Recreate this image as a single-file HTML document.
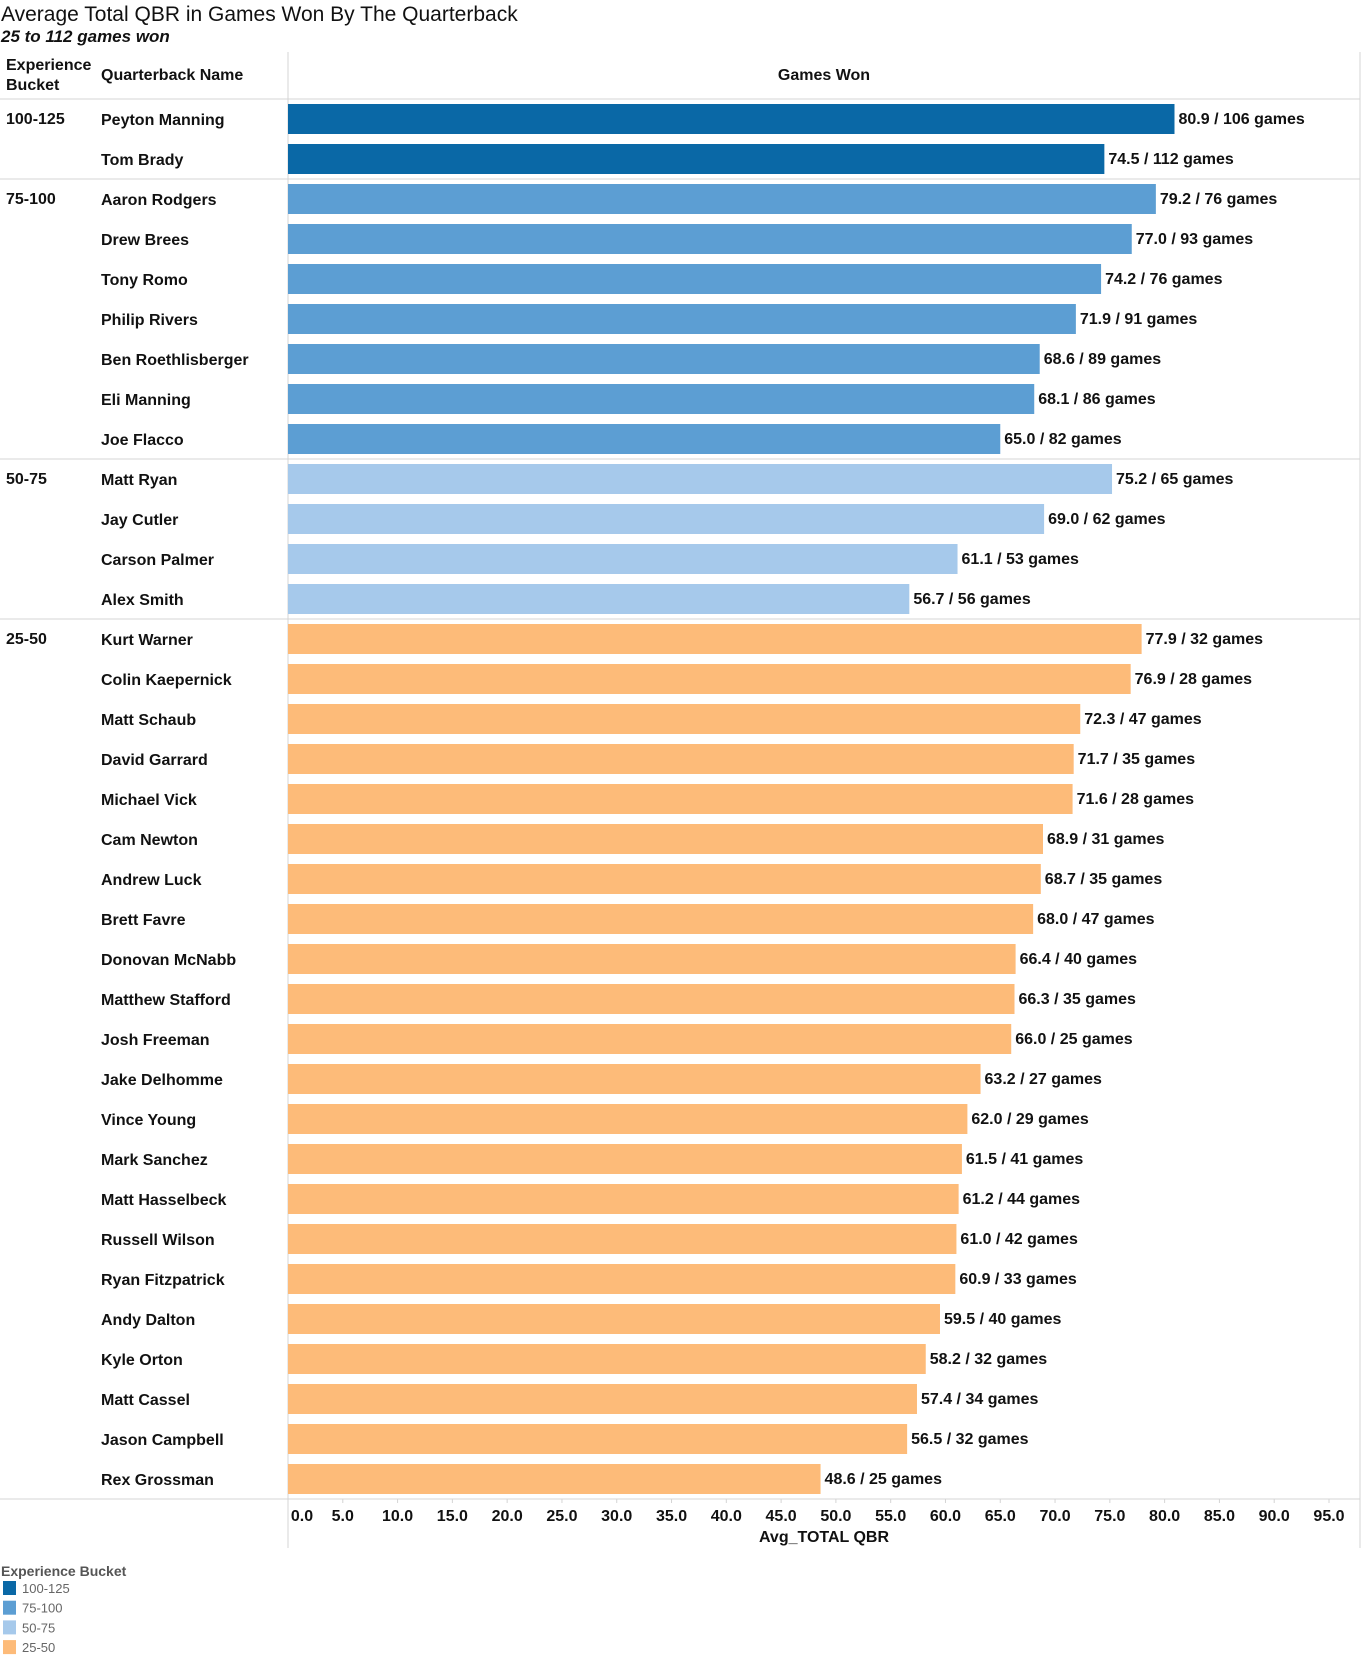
<!DOCTYPE html>
<html><head><meta charset="utf-8">
<style>
body{margin:0;background:#fff;}
svg{display:block;font-family:"Liberation Sans",Tahoma,sans-serif;}
.b{font-weight:bold;font-size:16px;fill:#111;}
</style></head>
<body>
<svg id="chart" width="1363" height="1658" viewBox="0 0 1363 1658">
<text x="1" y="21" font-size="21" fill="#111">Average Total QBR in Games Won By The Quarterback</text>
<text x="1" y="42" font-size="17" font-style="italic" font-weight="bold" fill="#111">25 to 112 games won</text>
<text x="6" y="70" class="b">Experience</text>
<text x="6" y="90" class="b">Bucket</text>
<text x="101" y="80" class="b">Quarterback Name</text>
<text x="824" y="80" class="b" text-anchor="middle">Games Won</text>
<g id="grid"></g>
<g id="rows"></g>
<g id="axis"></g>
<text x="824" y="1542" class="b" text-anchor="middle">Avg_TOTAL QBR</text>
<g id="legend"></g>
</svg>
<script>
const buckets = ["100-125","100-125","75-100","75-100","75-100","75-100","75-100","75-100","75-100","50-75","50-75","50-75","50-75","25-50","25-50","25-50","25-50","25-50","25-50","25-50","25-50","25-50","25-50","25-50","25-50","25-50","25-50","25-50","25-50","25-50","25-50","25-50","25-50","25-50","25-50"];
const names = ["Peyton Manning","Tom Brady","Aaron Rodgers","Drew Brees","Tony Romo","Philip Rivers","Ben Roethlisberger","Eli Manning","Joe Flacco","Matt Ryan","Jay Cutler","Carson Palmer","Alex Smith","Kurt Warner","Colin Kaepernick","Matt Schaub","David Garrard","Michael Vick","Cam Newton","Andrew Luck","Brett Favre","Donovan McNabb","Matthew Stafford","Josh Freeman","Jake Delhomme","Vince Young","Mark Sanchez","Matt Hasselbeck","Russell Wilson","Ryan Fitzpatrick","Andy Dalton","Kyle Orton","Matt Cassel","Jason Campbell","Rex Grossman"];
const qbr = [80.9,74.5,79.2,77.0,74.2,71.9,68.6,68.1,65.0,75.2,69.0,61.1,56.7,77.9,76.9,72.3,71.7,71.6,68.9,68.7,68.0,66.4,66.3,66.0,63.2,62.0,61.5,61.2,61.0,60.9,59.5,58.2,57.4,56.5,48.6];
const games = [106,112,76,93,76,91,89,86,82,65,62,53,56,32,28,47,35,28,31,35,47,40,35,25,27,29,41,44,42,33,40,32,34,32,25];
const ticks = [0,5,10,15,20,25,30,35,40,45,50,55,60,65,70,75,80,85,90,95];
const legendItems = ["100-125","75-100","50-75","25-50"];
const colors = {"100-125":"#0a68a6","75-100":"#5c9ed3","50-75":"#a6c9eb","25-50":"#fdbb79"};

const NS="http://www.w3.org/2000/svg";
const x0=288, pxPer=(1329-288)/95;
const xs=v=>x0+v*pxPer;
const rowTop=99, rowH=40;
const ys=i=>rowTop+i*rowH;
function mk(tag,attrs,parent,txt){const e=document.createElementNS(NS,tag);for(const k in attrs)e.setAttribute(k,attrs[k]);if(txt!==undefined)e.textContent=txt;parent.appendChild(e);return e;}
const grid=document.getElementById('grid'),rows=document.getElementById('rows'),axis=document.getElementById('axis'),legend=document.getElementById('legend');
const n=names.length;
const lineColor="#d4d4d4";
mk('line',{x1:288,y1:52,x2:288,y2:1548,stroke:lineColor},grid);
mk('line',{x1:1360,y1:52,x2:1360,y2:1548,stroke:lineColor},grid);
mk('line',{x1:0,y1:rowTop,x2:1360,y2:rowTop,stroke:lineColor},grid);
mk('line',{x1:0,y1:ys(n),x2:1360,y2:ys(n),stroke:lineColor},grid);
for(let i=0;i<n;i++){
  const yt=ys(i), yc=yt+rowH/2, b=buckets[i];
  if(i>0 && buckets[i-1]!==b){
    mk('line',{x1:0,y1:yt,x2:1360,y2:yt,stroke:lineColor},grid);
  }
  if(i===0||buckets[i-1]!==b){
    const t=mk('text',{x:6,y:yc+5,class:'b'},rows,b);
    
    
  }
  const nm=mk('text',{x:101,y:yc+6,class:'b'},rows,names[i]);
  
  
  const r=mk('rect',{x:x0,y:yc-15,width:xs(qbr[i])-x0,height:30,fill:colors[b]},rows);
  
  
  const lb=mk('text',{x:xs(qbr[i])+4,y:yc+5,class:'b'},rows,qbr[i].toFixed(1)+' / '+games[i]+' games');
  
  
}
ticks.forEach(t=>{
  const tk=mk('line',{x1:xs(t),y1:ys(n),x2:xs(t),y2:ys(n)+4,stroke:lineColor},axis);
  
  
  const tl=mk('text',{x:xs(t)+(t===0?14:0),y:1521,class:'b','text-anchor':'middle','font-size':'15'},axis,t.toFixed(1));
  
  
});
const lt=mk('text',{x:1,y:1576,'font-size':'14','font-weight':'bold',fill:'#555'},legend,'Experience Bucket');


legendItems.forEach((k,i)=>{
  const y=1588+i*19.7;
  const g=mk('g',{},legend);
  
  
  mk('rect',{x:3,y:y-7,width:13,height:14,fill:colors[k]},g);
  mk('text',{x:22,y:y+5,'font-size':'13',fill:'#666'},g,k);
});
</script>
</body></html>
